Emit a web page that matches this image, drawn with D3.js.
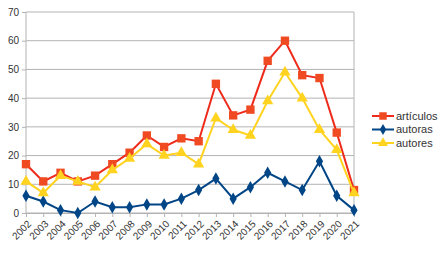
<!DOCTYPE html>
<html>
<head>
<meta charset="utf-8">
<script src="https://cdn.jsdelivr.net/npm/d3@7"></script>
<style>
  body { margin: 0; background: #fff; }
  text { font-family: "Liberation Sans", Arial, sans-serif; }
</style>
</head>
<body>
<div id="chart"></div>
<script>
const years = ["2002","2003","2004","2005","2006","2007","2008","2009","2010","2011",
  "2012","2013","2014","2015","2016","2017","2018","2019","2020","2021"]
const articulos = [17, 11, 14, 11, 13, 17, 21, 27, 23, 26, 25, 45, 34, 36, 53, 60, 48, 47, 28, 8]
const autoras = [6, 4, 1, 0, 4, 2, 2, 3, 3, 5, 8, 12, 5, 9, 14, 11, 8, 18, 6, 1]
const autores = [11, 7, 13, 11, 9, 15, 19, 24, 20, 21, 17, 33, 29, 27, 39, 49, 40, 29, 22, 7]
const yTicks = [0, 10, 20, 30, 40, 50, 60, 70]

const series = [
  { name: "artículos", values: articulos, line: "#ee2a1b", fill: "#f04a23", symbol: d3.symbolSquare, size: 70 },
  { name: "autoras", values: autoras, line: "#004586", fill: "#004586", symbol: d3.symbolDiamond, size: 45 },
  { name: "autores", values: autores, line: "#ffd320", fill: "#ffd320", symbol: d3.symbolTriangle, size: 55 },
]

let dimensions = {
  width: 441,
  height: 254,
  margin: { top: 12, right: 87, bottom: 41, left: 26 },
}
dimensions.boundedWidth = dimensions.width - dimensions.margin.left - dimensions.margin.right
dimensions.boundedHeight = dimensions.height - dimensions.margin.top - dimensions.margin.bottom

const xScale = d3.scalePoint()
    .domain(years)
    .range([0, dimensions.boundedWidth])

const yScale = d3.scaleLinear()
    .domain([0, 70])
    .range([dimensions.boundedHeight, 0])

const svg = d3.select("#chart")
  .append("svg")
    .attr("width", dimensions.width)
    .attr("height", dimensions.height)

const bounds = svg.append("g")
    .attr("transform", `translate(${dimensions.margin.left},${dimensions.margin.top})`)

// grid lines
bounds.append("g")
  .selectAll("line")
  .data(yTicks)
  .join("line")
    .attr("x1", 0)
    .attr("x2", dimensions.boundedWidth)
    .attr("y1", d => yScale(d))
    .attr("y2", d => yScale(d))
    .attr("stroke", "#b3b3b3")
    .attr("stroke-width", 1)

// plot border (left + right)
bounds.append("line")
    .attr("x1", dimensions.boundedWidth).attr("x2", dimensions.boundedWidth)
    .attr("y1", 0).attr("y2", dimensions.boundedHeight)
    .attr("stroke", "#b3b3b3")
bounds.append("line")
    .attr("x1", 0).attr("x2", 0)
    .attr("y1", 0).attr("y2", dimensions.boundedHeight)
    .attr("stroke", "#b3b3b3")

// y axis
const yAxis = bounds.append("g")
  .call(d3.axisLeft(yScale).tickValues(yTicks).tickSize(4).tickPadding(3))
yAxis.select(".domain").remove()
yAxis.selectAll("line").attr("stroke", "#b3b3b3")
yAxis.selectAll("text").attr("fill", "#333").style("font-size", "10px")

// x axis
const xAxis = bounds.append("g")
    .attr("transform", `translate(0,${dimensions.boundedHeight})`)
  .call(d3.axisBottom(xScale).tickSize(4).tickPadding(3))
xAxis.select(".domain").attr("stroke", "#b3b3b3")
xAxis.selectAll("line").attr("stroke", "#b3b3b3")
xAxis.selectAll("text")
    .attr("fill", "#333")
    .style("font-size", "10px")
    .attr("text-anchor", "end")
    .attr("y", 0)
    .attr("dy", "0.35em")
    .attr("transform", "translate(3,9) rotate(-45)")

const lineGenerator = d3.line()
    .x((d, i) => xScale(years[i]))
    .y(d => yScale(d))

series.forEach(s => {
  const g = bounds.append("g")
  g.append("path")
      .attr("d", lineGenerator(s.values))
      .attr("fill", "none")
      .attr("stroke", s.line)
      .attr("stroke-width", 2)
  g.selectAll("path.mark")
    .data(s.values)
    .join("path")
      .attr("class", "mark")
      .attr("d", d3.symbol(s.symbol, s.size))
      .attr("transform", (d, i) => `translate(${xScale(years[i])},${yScale(d)})`)
      .attr("fill", s.fill)
})

// legend
const legend = svg.append("g")
    .attr("transform", "translate(372,116)")
series.forEach((s, i) => {
  const row = legend.append("g").attr("transform", `translate(0,${i * 13.5})`)
  row.append("line")
      .attr("x1", 0).attr("x2", 22)
      .attr("stroke", s.line)
      .attr("stroke-width", 2)
  row.append("path")
      .attr("d", d3.symbol(s.symbol, s.size * 0.8))
      .attr("transform", "translate(11,0)")
      .attr("fill", s.fill)
  row.append("text")
      .attr("x", 24)
      .attr("dy", "0.35em")
      .attr("fill", "#333")
      .style("font-size", "11px")
      .text(s.name)
})
</script>
</body>
</html>
